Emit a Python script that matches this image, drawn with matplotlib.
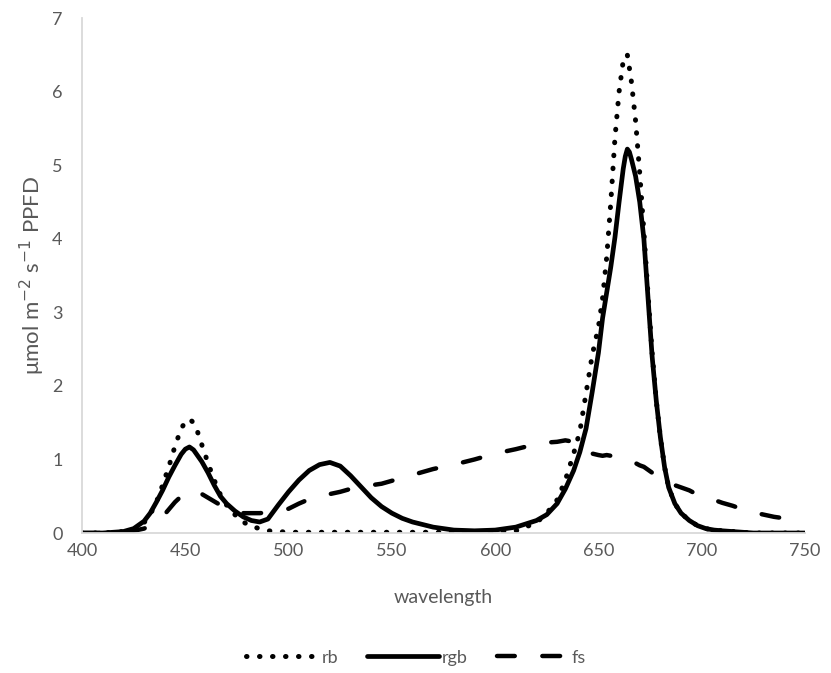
import matplotlib.pyplot as plt

# wavelength grid (nm), denser around the peaks
wavelength = [400, 410, 420, 425, 430, 433, 436, 439, 442, 445, 448, 450, 452, 454, 456, 458,
              461, 464, 467, 470, 474, 478, 482, 486, 490, 495, 500, 505, 510, 515, 520, 525,
              530, 535, 540, 545, 550, 555, 560, 570, 580, 590, 600, 610, 620, 625, 630, 634,
              638, 641, 644, 647, 650, 652, 654, 656, 658, 660, 662, 663, 664, 665, 666, 668,
              670, 672, 674, 676, 678, 680, 682, 684, 687, 690, 694, 698, 702, 706, 710, 715,
              720, 725, 730, 735, 740, 745, 750]

rb = [0, 0, 0.02, 0.05, 0.14, 0.25, 0.42, 0.65, 0.9, 1.18, 1.42, 1.51, 1.55, 1.5, 1.37, 1.2,
      0.95, 0.72, 0.52, 0.38, 0.25, 0.15, 0.09, 0.06, 0.03, 0.02, 0.01, 0.01, 0.01, 0.01, 0.01, 0.01,
      0.01, 0.01, 0.01, 0.01, 0.01, 0.01, 0.01, 0.01, 0.01, 0.01, 0.01, 0.03, 0.14, 0.27, 0.45, 0.72,
      1.08, 1.38, 1.9, 2.42, 2.8, 3.19, 3.75, 4.5, 5.37, 6.0, 6.42, 6.5, 6.5, 6.32, 6.13, 5.6,
      4.89, 4.1, 3.25, 2.45, 1.8, 1.3, 0.9, 0.62, 0.4, 0.27, 0.17, 0.1, 0.06, 0.04, 0.03, 0.02,
      0.01, 0, 0, 0, 0, 0, 0]

rgb = [0, 0, 0.02, 0.06, 0.16, 0.27, 0.42, 0.58, 0.76, 0.92, 1.07, 1.14, 1.17, 1.13, 1.05, 0.97,
       0.82, 0.65, 0.5, 0.4, 0.3, 0.22, 0.17, 0.15, 0.19, 0.38, 0.56, 0.72, 0.85, 0.93, 0.96, 0.91,
       0.78, 0.63, 0.48, 0.36, 0.27, 0.2, 0.15, 0.08, 0.04, 0.03, 0.04, 0.08, 0.17, 0.25, 0.4, 0.6,
       0.85, 1.1, 1.42, 1.92, 2.45, 2.92, 3.27, 3.62, 4.02, 4.5, 4.95, 5.12, 5.22, 5.18, 5.08, 4.85,
       4.5, 4.0, 3.2, 2.4, 1.8, 1.3, 0.9, 0.62, 0.4, 0.27, 0.17, 0.1, 0.06, 0.04, 0.03, 0.02,
       0.01, 0, 0, 0, 0, 0, 0]

fs = [0, 0, 0.01, 0.03, 0.06, 0.1, 0.15, 0.22, 0.32, 0.42, 0.5, 0.54, 0.57, 0.58, 0.56, 0.53,
      0.48, 0.43, 0.38, 0.34, 0.29, 0.27, 0.27, 0.27, 0.28, 0.3, 0.33, 0.4, 0.46, 0.5, 0.53, 0.56,
      0.6, 0.63, 0.65, 0.67, 0.71, 0.75, 0.79, 0.87, 0.93, 1.0, 1.08, 1.14, 1.21, 1.23, 1.24, 1.26,
      1.24, 1.2, 1.14, 1.08, 1.06, 1.05, 1.06, 1.05, 1.03, 1.01, 1.0, 1.0, 0.99, 0.98, 0.97, 0.95,
      0.92, 0.9, 0.86, 0.82, 0.79, 0.76, 0.73, 0.69, 0.65, 0.62, 0.58, 0.52, 0.48, 0.45, 0.41, 0.37,
      0.32, 0.28, 0.25, 0.22, 0.2, 0.17, 0.15]

xticks = [400, 450, 500, 550, 600, 650, 700, 750]
yticks = [0, 1, 2, 3, 4, 5, 6, 7]

plt.rcParams['font.family'] = ['Lato', 'DejaVu Sans']
grey = '#595959'

fig = plt.figure(figsize=(8.31, 6.73), dpi=100)
ax = fig.add_axes([0.0987, 0.208, 0.87, 0.765])

ax.plot(wavelength, rb, color='black', lw=3.6, linestyle=(0, (0.1, 2.5)),
        dash_capstyle='round', solid_joinstyle='round', label='rb')
ax.plot(wavelength, rgb, color='black', lw=3.4, solid_capstyle='round',
        solid_joinstyle='round', label='rgb')
ax.plot(wavelength, fs, color='black', lw=3.2, linestyle=(0, (4.0, 6.2)),
        dash_capstyle='round', label='fs')

ax.set_xlim(400, 750)
ax.set_ylim(0, 7)
ax.set_xticks(xticks)
ax.set_yticks(yticks)
ax.tick_params(length=0, labelsize=13, labelcolor=grey)
ax.tick_params(axis='x', pad=7)
ax.tick_params(axis='y', pad=14)

for s in ['top', 'right']:
    ax.spines[s].set_visible(False)
for s in ['left', 'bottom']:
    ax.spines[s].set_color('#d9d9d9')
    ax.spines[s].set_linewidth(1.3)

ax.set_xlabel('wavelength', fontsize=14, color=grey, labelpad=22)
ax.set_ylabel(r'μmol m$^{-2}$ s$^{-1}$ PPFD', fontsize=16, color=grey, labelpad=4)

ax.legend(loc='center', bbox_to_anchor=(0.462, -0.242), ncol=3, frameon=False,
          fontsize=13, labelcolor=grey, handlelength=4.0, handletextpad=0.15,
          columnspacing=1.6)

fig.savefig('out.png', dpi=100)
